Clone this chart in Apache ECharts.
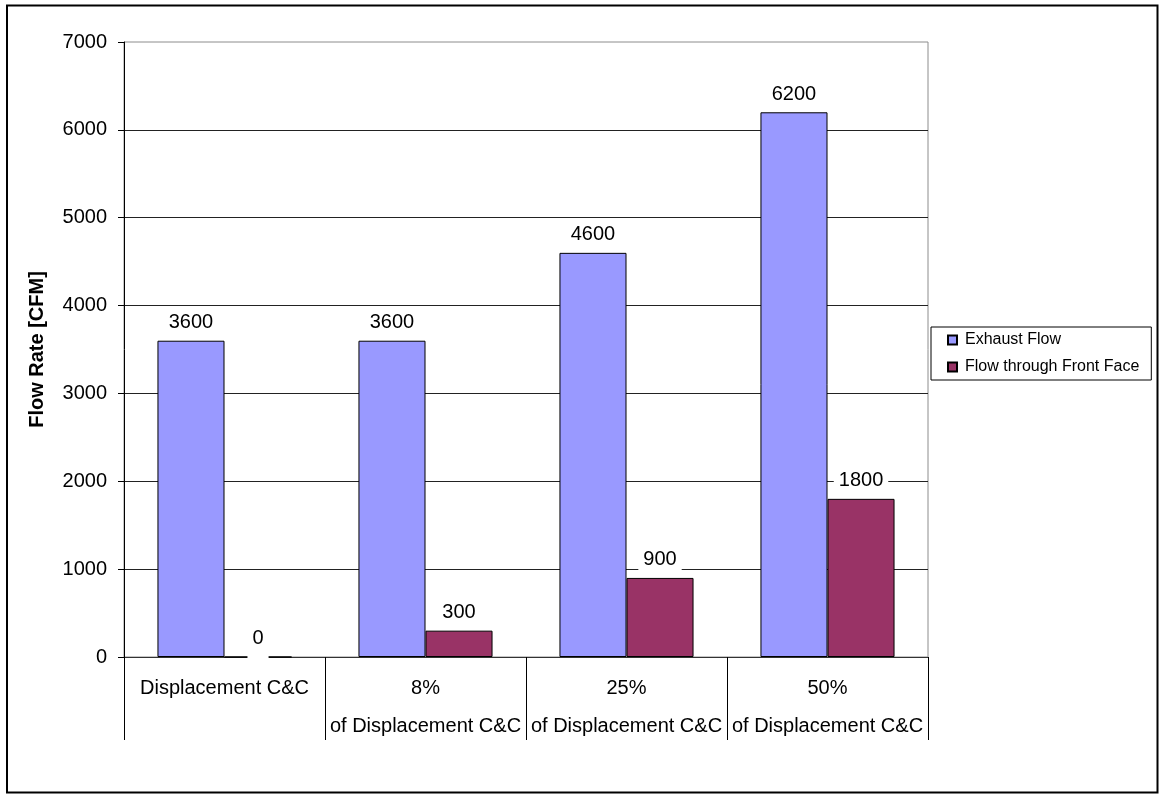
<!DOCTYPE html>
<html>
<head>
<meta charset="utf-8">
<script src="https://cdn.jsdelivr.net/npm/echarts@6/dist/echarts.min.js"></script>
<style>
  html, body { margin: 0; padding: 0; background: #fff; }
  #chartBox { width: 1160px; height: 795px; }
</style>
</head>
<body>
<div id="chartBox"></div>
<script>
const categories = [
  'Displacement C&C',
  '8%\nof Displacement C&C',
  '25%\nof Displacement C&C',
  '50%\nof Displacement C&C'
]
const exhaustFlow = [3600, 3600, 4600, 6200]
const frontFaceFlow = [0, 300, 900, 1800]
const seriesNames = ['Exhaust Flow', 'Flow through Front Face']

const font = 'Liberation Sans, Arial, sans-serif'

const valueLabel = {
  show: true,
  position: 'top',
  distance: 5,
  color: '#000',
  fontFamily: font,
  fontSize: 20,
  lineHeight: 20,
  backgroundColor: '#fff',
  padding: [3, 5, 3, 5]
}

// zero-height bar: the label box sits over the axis line like in the original
const toData = (values) => values.map((v) => {
  if (v === 0) {
    return { value: v, label: { distance: -2, padding: [3, 5, 10, 5] } }
  }
  return v
})

const chart = echarts.init(document.getElementById('chartBox'))
chart.setOption({
  animation: false,
  textStyle: { fontFamily: font },
  graphic: [{
    type: 'rect',
    shape: { x: 7, y: 5.5, width: 1150.5, height: 787 },
    style: { fill: 'none', stroke: '#000', lineWidth: 2 },
    silent: true
  }],
  grid: {
    left: 124,
    right: 232,
    top: 42,
    bottom: 138,
    show: true,
    borderColor: '#8c8c8c',
    borderWidth: 1
  },
  legend: {
    orient: 'vertical',
    left: 931,
    top: 327,
    padding: [4, 12, 4, 16],
    itemGap: 9,
    itemWidth: 9,
    itemHeight: 9,
    borderColor: '#000',
    borderWidth: 1,
    icon: 'rect',
    textStyle: {
      fontFamily: font,
      fontSize: 16,
      lineHeight: 18,
      color: '#000',
      padding: [0, 0, 0, 3]
    },
    data: seriesNames
  },
  xAxis: {
    type: 'category',
    data: categories,
    axisLine: { lineStyle: { color: '#333', width: 1 } },
    axisTick: { show: true, length: 83, lineStyle: { color: '#000' } },
    axisLabel: {
      interval: 0,
      margin: 12,
      color: '#000',
      fontFamily: font,
      fontSize: 20,
      lineHeight: 38,
      verticalAlign: 'top'
    }
  },
  yAxis: {
    type: 'value',
    min: 0,
    max: 7000,
    interval: 1000,
    name: 'Flow Rate [CFM]',
    nameLocation: 'middle',
    nameGap: 77,
    nameTextStyle: { fontFamily: font, fontSize: 20, fontWeight: 'bold', color: '#000' },
    axisLine: { show: true, lineStyle: { color: '#000' } },
    axisTick: { show: true, length: 6, lineStyle: { color: '#000' } },
    axisLabel: {
      margin: 17,
      color: '#000',
      fontFamily: font,
      fontSize: 20,
      formatter: (value) => String(value)
    },
    splitLine: { show: true, showMaxLine: false, lineStyle: { color: '#222', width: 1 } }
  },
  series: [
    {
      name: seriesNames[0],
      type: 'bar',
      barGap: '0%',
      barCategoryGap: '33.3%',
      itemStyle: { color: '#9999FF', borderColor: '#000', borderWidth: 1 },
      label: valueLabel,
      data: toData(exhaustFlow)
    },
    {
      name: seriesNames[1],
      type: 'bar',
      barGap: '0%',
      barCategoryGap: '33.3%',
      itemStyle: { color: '#993366', borderColor: '#000', borderWidth: 1 },
      label: valueLabel,
      data: toData(frontFaceFlow)
    }
  ]
})
</script>
</body>
</html>
